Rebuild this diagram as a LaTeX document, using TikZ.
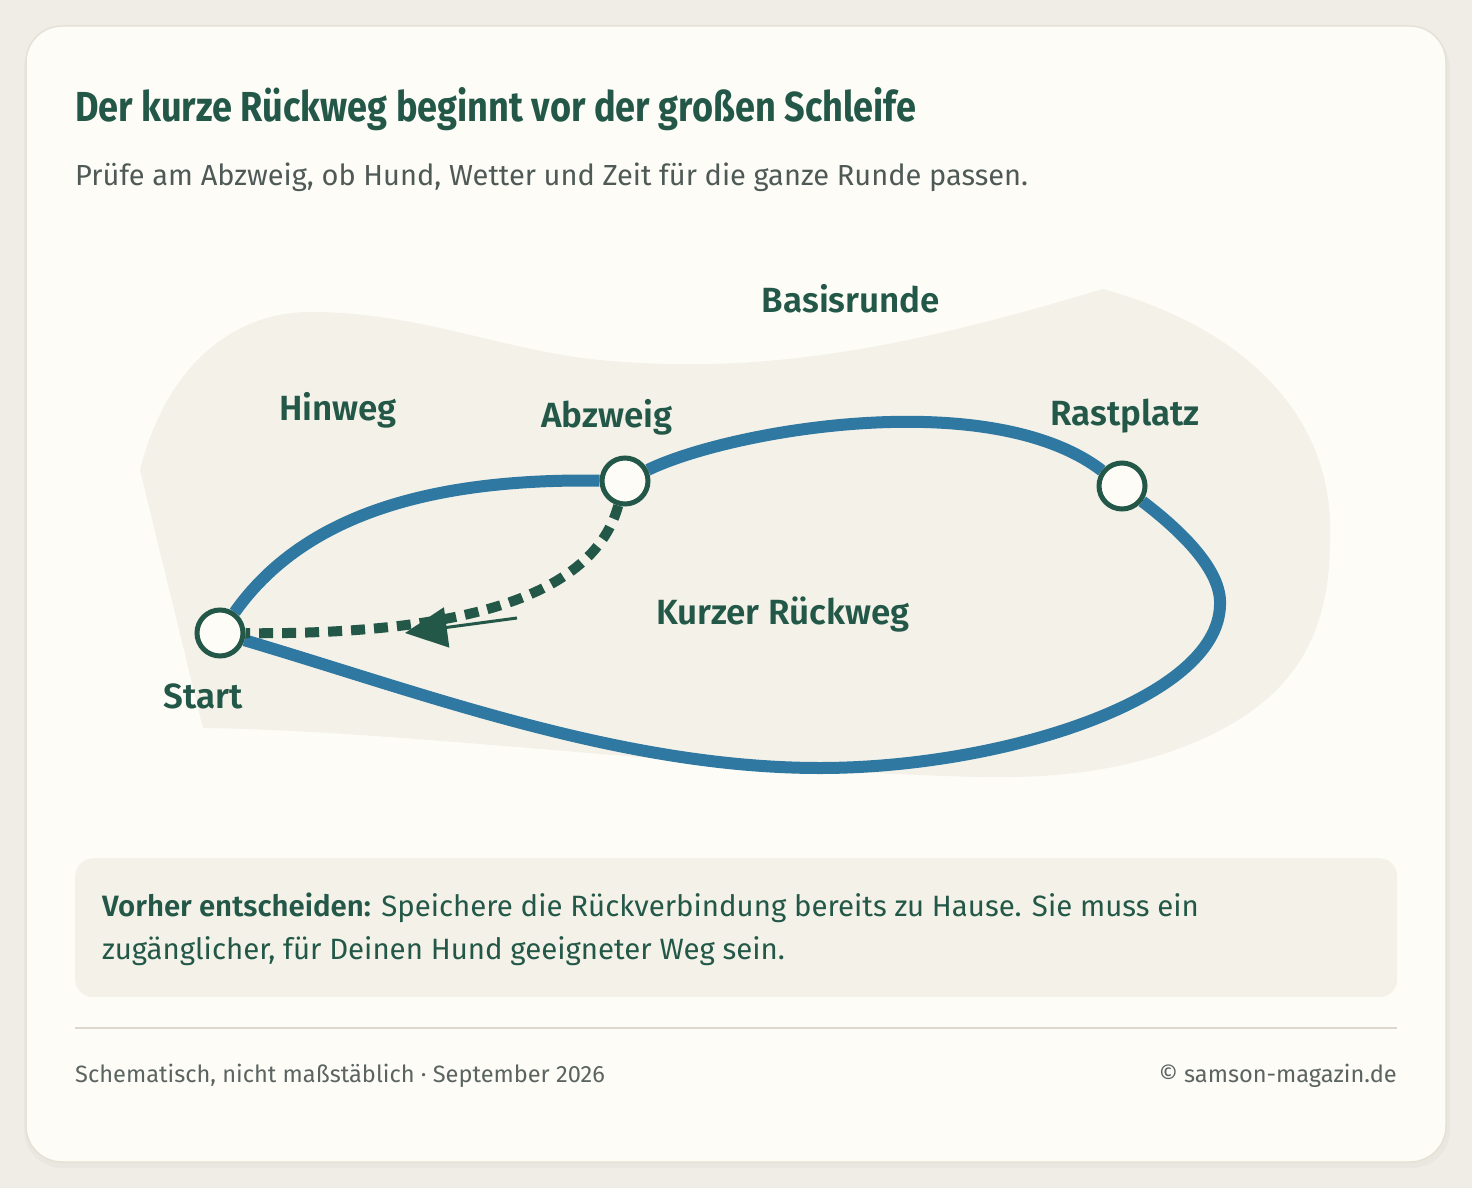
\documentclass[tikz,border=0pt]{standalone}
\usepackage{fontspec}
\usepackage{graphicx}
\setmainfont{Fira Sans}
\newfontfamily\semifont{Fira Sans SemiBold}
\usetikzlibrary{arrows.meta}
\definecolor{pagebg}{HTML}{EFEDE6}
\definecolor{cardbg}{HTML}{FDFCF7}
\definecolor{cardline}{HTML}{E6E1D5}
\definecolor{blobfill}{HTML}{F3F1E8}
\definecolor{routeblue}{HTML}{2E78A2}
\definecolor{deepgreen}{HTML}{235848}
\definecolor{subgray}{HTML}{4F5A57}
\definecolor{footgray}{HTML}{5B6461}
\definecolor{sepline}{HTML}{DDD8CE}
\pgfdeclarelayer{back}
\pgfdeclarelayer{routes}
\pgfsetlayers{back,routes,main}
\begin{document}
\begin{tikzpicture}[x=1pt,y=-1pt,
    every node/.style={inner sep=0pt},
    placename/.style={anchor=base, text=deepgreen, font=\fontsize{35}{40}\semifont},
    stopnode/.style={circle, draw=deepgreen, line width=5pt, fill=cardbg, minimum size=46pt},
    route/.style={draw=routeblue, line width=12pt},
    shortcut/.style={draw=deepgreen, line width=10pt, dash pattern=on 14pt off 9pt},
    bodytext/.style={anchor=base west, text=deepgreen, font=\fontsize{29.4}{34}\selectfont},
    foottext/.style={text=footgray, font=\fontsize{23.6}{28}\selectfont}]
    \useasboundingbox (0,0) rectangle (1472,1188);
    \begin{pgfonlayer}{back}
        \fill[pagebg] (0,0) rectangle (1472,1188);
        \fill[black, opacity=0.025, rounded corners=38pt] (24,30) rectangle (1450,1168);
        \draw[cardline, fill=cardbg, line width=1.5pt, rounded corners=36pt] (26,26) rectangle (1446,1162);
        % basisrunde area
        \fill[blobfill] (140,470) .. controls (165,370) and (230,312) .. (310,312)
            .. controls (420,312) and (500,350) .. (600,360)
            .. controls (760,375) and (900,350) .. (1103,289)
            .. controls (1250,330) and (1335,420) .. (1330,540)
            .. controls (1330,640) and (1290,700) .. (1200,740)
            .. controls (1120,775) and (1040,778) .. (980,777)
            .. controls (700,770) and (400,730) .. (203,728) -- cycle;
    \end{pgfonlayer}

    \node[anchor=base west, text=deepgreen] (title) at (75,122) {\resizebox{841pt}{34pt}{\bfseries Der kurze Rückweg beginnt vor der großen Schleife}};
    \node[anchor=base west, text=subgray, font=\fontsize{29}{34}\selectfont] (subtitle) at (75,185) {Prüfe am Abzweig, ob Hund, Wetter und Zeit für die ganze Runde passen.};

    \node[stopnode] (start) at (220,633) {};
    \node[stopnode] (abzweig) at (625,481) {};
    \node[stopnode] (rast) at (1122,486) {};

    \begin{pgfonlayer}{routes}
        \draw[route] (start) .. controls (300,520) and (420,478) .. (abzweig);
        \draw[route] (abzweig) .. controls (730,430) and (990,385) .. (rast);
        \draw[route] (rast) .. controls (1180,530) and (1222,570) .. (1220,605)
            .. controls (1218,700) and (1000,768) .. (820,768)
            .. controls (620,768) and (420,692) .. (start);
        \draw[shortcut] (abzweig) .. controls (595,590) and (480,635) .. (start);
    \end{pgfonlayer}
    \coordinate (arrowtail) at (517,618);
    \coordinate (arrowtip) at (405,633);
    \draw[deepgreen, line width=3pt, -{Triangle[length=42pt,width=40pt]}] (arrowtail) -- (arrowtip);

    \node[placename] (basis) at (851,312) {Basisrunde};
    \node[placename] (hinweg) at (338,420) {Hinweg};
    \node[placename] (abzweiglabel) at (607,427) {Abzweig};
    \node[placename] (rastlabel) at (1125,425) {Rastplatz};
    \node[placename] (kurz) at (783,624) {Kurzer Rückweg};
    \node[placename] (startlabel) at (203,708) {Start};

    % hinweis box
    \node[fill=blobfill, rounded corners=18pt, anchor=north west, minimum width=1322pt, minimum height=139pt] (hintbox) at (75,858) {};
    \node[bodytext] (hintone) at (102,916) {{\semifont Vorher entscheiden:} Speichere die Rückverbindung bereits zu Hause. Sie muss ein};
    \node[bodytext] (hinttwo) at (102,959) {zugänglicher, für Deinen Hund geeigneter Weg sein.};

    \draw[sepline, line width=2pt] (75,1028) -- (1397,1028);
    \node[foottext, anchor=base west] (footleft) at (75,1082) {Schematisch, nicht maßstäblich · September 2026};
    \node[foottext, anchor=base east] (footright) at (1397,1082) {© samson-magazin.de};
\end{tikzpicture}
\end{document}
